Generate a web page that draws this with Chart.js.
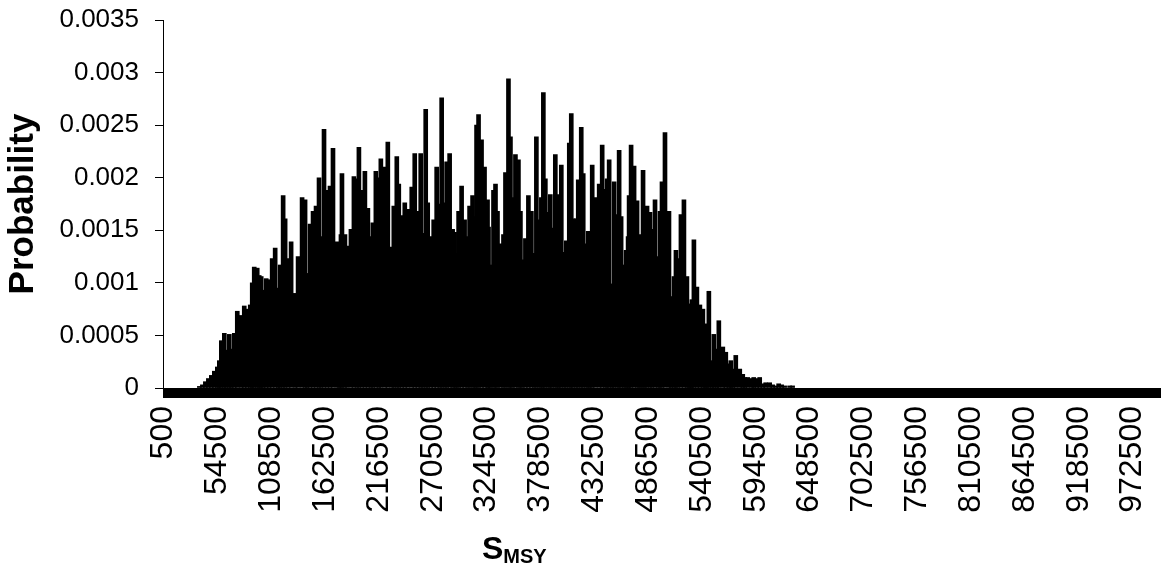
<!DOCTYPE html>
<html>
<head>
<meta charset="utf-8">
<script src="https://cdn.jsdelivr.net/npm/chart.js@4"></script>
<style>
  body { margin: 0; background: #fff; }
  #wrap { position: relative; width: 1162px; height: 579px; }
  #xtitle {
    position: absolute; left: 482px; top: 530px;
    font-family: "Liberation Sans", Arial, sans-serif;
    font-weight: bold; font-size: 32px; color: #000;
  }
  #xtitle sub { font-size: 20px; vertical-align: -4px; }
</style>
</head>
<body>
<div id="wrap">
  <canvas id="chart1"></canvas>
  <div id="xtitle">S<sub>MSY</sub></div>
</div>
<script>
// ===== Data =====
// category axis: S_MSY bins of width 1000, 500 .. 999500
const sCategories = Array.from({ length: 1000 }, (_, i) => String(500 + 1000 * i));
const xTickLabels = ["500", "54500", "108500", "162500", "216500", "270500", "324500", "378500",
    "432500", "486500", "540500", "594500", "648500", "702500", "756500", "810500",
    "864500", "918500", "972500"];
const yTickLabels = ["0", "0.0005", "0.001", "0.0015", "0.002", "0.0025", "0.003", "0.0035"];

// bins (S_MSY) and their probability
const smsyBins = [
    36500, 39500, 42500, 45500, 48500, 51500, 54500, 56500, 58500, 61500,
    63500, 66500, 68500, 71500, 74500, 78500, 81500, 84500, 87500, 89500,
    91500, 94500, 96500, 98500, 100500, 103500, 106500, 109500, 112500, 115500,
    117500, 120500, 122500, 125500, 128500, 132500, 135500, 139500, 142500, 144500,
    147500, 150500, 153500, 156500, 158500, 161500, 164500, 167500, 170500, 174500,
    176500, 178500, 179500, 182500, 184500, 188500, 191500, 194500, 196500, 199500,
    202500, 205500, 208500, 210500, 213500, 216500, 218500, 222500, 225500, 229500,
    231500, 234500, 236500, 239500, 242500, 245500, 249500, 252500, 255500, 258500,
    260500, 263500, 265500, 268500, 271500, 274500, 277500, 279500, 282500, 284500,
    287500, 290500, 292500, 294500, 296500, 299500, 302500, 305500, 307500, 310500,
    312500, 314500, 316500, 319500, 322500, 325500, 326500, 328500, 331500, 333500,
    335500, 338500, 341500, 343500, 346500, 348500, 350500, 353500, 356500, 358500,
    360500, 363500, 366500, 369500, 372500, 374500, 377500, 379500, 381500, 383500,
    386500, 388500, 390500, 393500, 395500, 397500, 399500, 402500, 404500, 407500,
    409500, 411500, 414500, 416500, 419500, 421500, 424500, 426500, 428500, 430500,
    433500, 437500, 440500, 443500, 445500, 447500, 450500, 452500, 455500, 457500,
    459500, 462500, 464500, 466500, 467500, 469500, 472500, 475500, 477500, 479500,
    481500, 483500, 485500, 488500, 490500, 493500, 496500, 498500, 500500, 503500,
    507500, 509500, 512500, 514500, 516500, 519500, 522500, 525500, 527500, 529500,
    530500, 532500, 535500, 538500, 541500, 543500, 545500, 547500, 550500, 552500,
    555500, 557500, 561500, 564500, 567500, 569500, 571500, 574500, 578500, 581500,
    583500, 586500, 590500, 592500, 595500, 598500, 601500, 604500, 608500, 611500,
    614500, 617500, 620500, 623500, 628500, 631500
];
const probability = [
    0.000015, 0.00003, 0.00006, 0.00009, 0.00012, 0.00016, 0.0002, 0.00026, 0.00045, 0.00052,
    0.00036, 0.00051, 0.00037, 0.00052, 0.00073, 0.00069, 0.00078, 0.00075, 0.00079, 0.001,
    0.00115, 0.00114, 0.00107, 0.00106, 0.00093, 0.00104, 0.00103, 0.00123, 0.00133, 0.00095,
    0.00117, 0.00183, 0.00161, 0.00123, 0.00139, 0.0009, 0.00125, 0.00181, 0.00179, 0.00109,
    0.00156, 0.00168, 0.00173, 0.002, 0.00144, 0.00246, 0.00188, 0.00192, 0.00228, 0.00139,
    0.00126, 0.00146, 0.00204, 0.00146, 0.00135, 0.00151, 0.00201, 0.00199, 0.00229, 0.00188,
    0.00206, 0.00171, 0.00144, 0.00157, 0.00206, 0.002, 0.00218, 0.0021, 0.00234, 0.00134,
    0.00173, 0.0022, 0.00194, 0.00164, 0.00176, 0.0017, 0.00191, 0.00223, 0.00168, 0.00223,
    0.00147, 0.00265, 0.00176, 0.00144, 0.0016, 0.0021, 0.00175, 0.00276, 0.00176, 0.00215,
    0.00223, 0.00151, 0.00148, 0.00128, 0.00168, 0.00192, 0.0016, 0.00144, 0.00173, 0.00183,
    0.00163, 0.0025, 0.0026, 0.00236, 0.0021, 0.00179, 0.00153, 0.00117, 0.00188, 0.00194,
    0.00168, 0.00137, 0.00146, 0.00205, 0.00294, 0.00239, 0.00181, 0.00222, 0.00217, 0.00168,
    0.00122, 0.00142, 0.00183, 0.00168, 0.00128, 0.00239, 0.0016, 0.00181, 0.00281, 0.00199,
    0.00167, 0.00184, 0.00152, 0.00222, 0.00173, 0.00184, 0.00212, 0.00129, 0.0014, 0.00233,
    0.00261, 0.00161, 0.00161, 0.00198, 0.00248, 0.00204, 0.00137, 0.00149, 0.00149, 0.00212,
    0.00181, 0.00194, 0.00231, 0.00189, 0.00199, 0.00217, 0.00099, 0.00196, 0.00165, 0.00226,
    0.00163, 0.00117, 0.00131, 0.00144, 0.00183, 0.00231, 0.00211, 0.00178, 0.00146, 0.00129,
    0.00207, 0.00122, 0.00173, 0.00167, 0.00151, 0.00179, 0.00125, 0.00168, 0.00196, 0.00243,
    0.00168, 0.00087, 0.00106, 0.00131, 0.00123, 0.00165, 0.00179, 0.00106, 0.0008, 0.00059,
    0.00084, 0.00141, 0.00096, 0.00079, 0.00075, 0.00055, 0.00061, 0.00092, 0.00026, 0.00051,
    0.00037, 0.00064, 0.00039, 0.00034, 0.00023, 0.00026, 0.00018, 0.00031, 0.00018, 0.00013,
    0.0001, 0.0001, 0.00009, 0.0001, 0.00009, 0.0001, 0.00004, 0.00005, 0.00005, 0.00003,
    0.00002, 0.00004, 0.00003, 0.00002, 0.00002, 0.00002
];

// ===== Chart =====
const ctx1 = document.getElementById("chart1");

const chart1 = new Chart(ctx1, {
    type: "bar",
    data: {
        labels: sCategories,
        datasets: [{
            label: "Probability",
            data: smsyBins.map((s, k) => ({ x: String(s), y: probability[k] })),
            backgroundColor: "#000000",
            borderWidth: 0,
            barThickness: 4
        }]
    },
    options: {
        responsive: true,
        maintainAspectRatio: false,
        animation: false,
        layout: { padding: { top: 20, right: 2, bottom: 0, left: 0 } },
        plugins: {
            legend: { display: false },
            tooltip: { enabled: false }
        },
        scales: {
            x: {
                ticks: {
                    autoSkip: false,
                    minRotation: 90,
                    maxRotation: 90,
                    padding: 8,
                    color: "#000",
                    font: { family: "'Liberation Sans', Arial, sans-serif", size: 32 },
                    callback: (v, i) => xTickLabels.includes(sCategories[i]) ? sCategories[i] : ""
                },
                grid: {
                    drawOnChartArea: false,
                    tickLength: 10,
                    color: "#000",
                    lineWidth: 1
                },
                border: { color: "#000", width: 1 },
                afterFit: (scale) => {
                    scale.height = 191;
                    scale.paddingLeft = 0;
                    scale.paddingRight = 0;
                }
            },
            y: {
                min: 0,
                max: 0.0035,
                ticks: {
                    stepSize: 0.0005,
                    padding: 16,
                    color: "#000",
                    font: { family: "'Liberation Sans', Arial, sans-serif", size: 26 },
                    callback: (v, i) => yTickLabels[i]
                },
                grid: {
                    drawOnChartArea: false,
                    tickLength: 8,
                    color: "#000"
                },
                border: { color: "#000", width: 1 },
                title: {
                    display: true,
                    text: "Probability",
                    color: "#000",
                    font: { family: "'Liberation Sans', Arial, sans-serif", size: 35, weight: "bold" },
                    padding: { top: 2, bottom: 0 }
                },
                afterFit: (scale) => {
                    scale.width = 163;
                    scale.paddingTop = 0;
                    scale.paddingBottom = 0;
                }
            }
        }
    }
});
</script>
</body>
</html>
